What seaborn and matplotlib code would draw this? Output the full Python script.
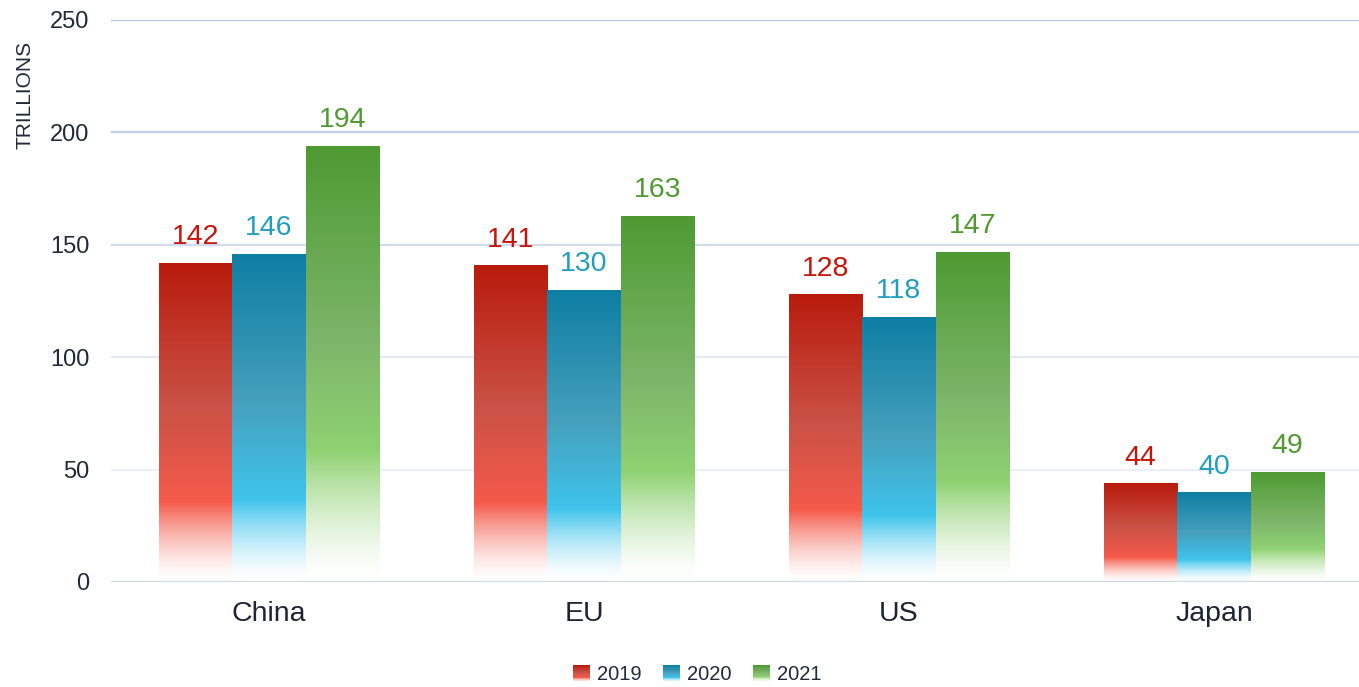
import numpy as np
import pandas as pd
import matplotlib
matplotlib.use("Agg")
import matplotlib.pyplot as plt
import seaborn as sns
from matplotlib.colors import to_rgb
from matplotlib.patches import Rectangle
from matplotlib.legend_handler import HandlerBase

# ---- data ----
categories = ["China", "EU", "US", "Japan"]
years = ["2019", "2020", "2021"]
values_2019 = [142, 141, 128, 44]
values_2020 = [146, 130, 118, 40]
values_2021 = [194, 163, 147, 49]
y_ticks = [0, 50, 100, 150, 200, 250]

# ---- styling ----
top_colors = {"2019": "#b81b0c", "2020": "#0e7ea3", "2021": "#4e9a32"}
mid_colors = {"2019": "#ca5246", "2020": "#45a0bc", "2021": "#7db66a"}
bright_colors = {"2019": "#f55a4a", "2020": "#3fc4ec", "2021": "#8fd272"}
label_colors = {"2019": "#c8140a", "2020": "#1f9fbd", "2021": "#4f9a2f"}

sns.set_theme(style="white")
plt.rcParams["font.family"] = ["Liberation Sans", "DejaVu Sans"]

df = pd.DataFrame({
    "category": categories * 3,
    "year": [y for y in years for _ in categories],
    "value": values_2019 + values_2020 + values_2021,
})

W, H = 1359, 687
fig = plt.figure(figsize=(W / 100, H / 100), dpi=100)
ax_left, ax_w = 111.5, 1260
ax = fig.add_axes([ax_left / W, 1 - 582 / H, ax_w / W, (582 - 20) / H])

palette = {y: top_colors[y] for y in years}
sns.barplot(data=df, x="category", y="value", hue="year", order=categories,
            hue_order=years, palette=palette, width=0.70, ax=ax,
            errorbar=None, legend=False, saturation=1)


def gradient_image(year, n=256):
    top = np.array(to_rgb(top_colors[year]))
    mid = np.array(to_rgb(mid_colors[year]))
    bright = np.array(to_rgb(bright_colors[year]))
    white = np.array([1.0, 1.0, 1.0])
    t = np.linspace(0, 1, n)  # 0 = bottom, 1 = top
    img = np.zeros((n, 1, 3))
    split = 0.25 if year != "2021" else 0.30
    mid_t = 0.55
    for i, ti in enumerate(t):
        if ti >= mid_t:
            f = (ti - mid_t) / (1 - mid_t)
            c = mid * (1 - f) + top * f
        elif ti >= split:
            f = (ti - split) / (mid_t - split)
            c = bright * (1 - f) + mid * f
        else:
            f = ti / split
            c = white * (1 - f ** 1.5) + bright * (f ** 1.5)
            c = c * 0.96 + white * 0.04 if ti < split * 0.2 else c
        img[i, 0] = c
    return img


# replace flat bar fills by vertical gradients
patches = list(ax.patches)
for idx, p in enumerate(patches):
    year = years[idx // len(categories)]
    x0, w, h = p.get_x(), p.get_width(), p.get_height()
    im = ax.imshow(gradient_image(year), extent=[x0, x0 + w, 0, h],
                   origin="lower", aspect="auto", zorder=2)
    im.set_clip_path(p)
    p.set_facecolor("none")
    p.set_edgecolor("none")
    ax.annotate(f"{int(round(h))}", (x0 + w / 2, h), xytext=(0, 9),
                textcoords="offset points", ha="center", va="bottom",
                fontsize=20.5, color=label_colors[year], zorder=4)

ax.set_xlim(-0.5, 3.5)
ax.set_ylim(0, 250)
ax.set_yticks(y_ticks)
ax.set_yticklabels([str(v) for v in y_ticks], fontsize=17, color="#1f2a3a")
ax.tick_params(axis="y", length=0, pad=16)
ax.tick_params(axis="x", length=0, pad=14, labelsize=20.5, labelcolor="#1c2535")
ax.set_xlabel("")
ax.set_ylabel("")
for s in ax.spines.values():
    s.set_visible(False)

grid_colors = {0: "#ccd8ec", 50: "#eceff7", 100: "#e3e8f3", 150: "#d3dcee",
               200: "#bfcfe8", 250: "#b6c8e6"}
for v in y_ticks:
    ax.axhline(v, color=grid_colors[v], lw=1.6, zorder=3 if v == 0 else 0.5)

fig.text(25 / W, 1 - 95 / H, "TRILLIONS", rotation=90, ha="center",
         va="center", fontsize=15, color="#1f2a3a")


# legend with gradient swatches
class GradientHandler(HandlerBase):
    def __init__(self, year):
        super().__init__()
        self.year = year

    def create_artists(self, legend, orig_handle, xdescent, ydescent, width,
                       height, fontsize, trans):
        img = gradient_image(self.year, n=24)
        n = img.shape[0]
        side = width
        x = -xdescent
        y0 = -ydescent + height / 2 - side / 2
        arts = []
        for i in range(n):
            r = Rectangle((x, y0 + i * side / n), side, side / n + 0.15,
                          facecolor=img[i, 0], edgecolor="none", transform=trans)
            arts.append(r)
        return arts


handles = [Rectangle((0, 0), 1, 1) for _ in years]
fig.legend(handles, years, loc="center", bbox_to_anchor=(697.5 / W, 1 - 675 / H),
           ncol=3, frameon=False, fontsize=14.5, handlelength=0.85,
           handletextpad=0.35, columnspacing=1.05, labelcolor="#1f2a3a",
           borderpad=0, borderaxespad=0,
           handler_map={h: GradientHandler(y) for h, y in zip(handles, years)})

fig.savefig("out.png", dpi=100)
